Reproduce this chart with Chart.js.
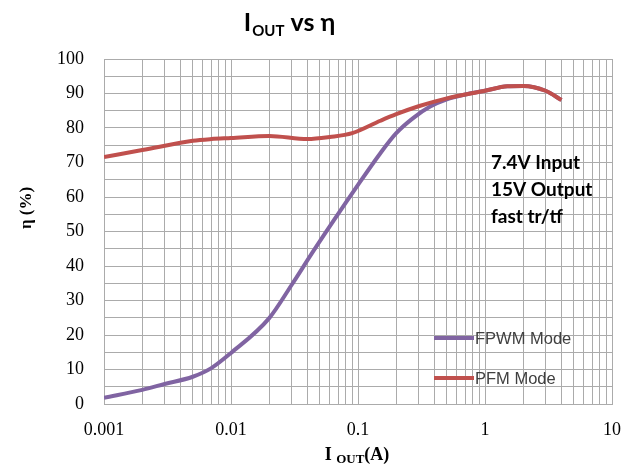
<!DOCTYPE html>
<html lang="en">
<head>
<meta charset="UTF-8">
<title>IOUT vs eta</title>
<script src="https://cdn.jsdelivr.net/npm/chart.js@4"></script>
<style>
  html, body { margin: 0; padding: 0; background: #fff; }
  #wrap { width: 633px; height: 471px; position: relative; }
</style>
</head>
<body>
<div id="wrap"><canvas id="effChart" width="633" height="471"></canvas></div>
<script>
// values
const fpwmCurrent = [0.001, 0.002, 0.003, 0.005, 0.007, 0.01, 0.02, 0.03, 0.045, 0.1, 0.15, 0.2, 0.27, 0.37, 0.5, 0.7, 1, 1.5, 2, 3, 4];
const fpwmEff     = [1.8, 4.1, 5.8, 7.9, 10.4, 14.8, 24.9, 34.5, 44.6, 63.5, 72.7, 78.5, 82.8, 86.2, 88.3, 89.7, 90.8, 92.1, 92.2, 90.8, 88.1];

const pfmCurrent = [0.001, 0.002, 0.005, 0.007, 0.01, 0.02, 0.04, 0.06, 0.09, 0.15, 0.2, 0.3, 0.5, 1, 1.5, 2, 3, 4];
const pfmEff     = [71.6, 73.6, 76.3, 76.8, 77.1, 77.7, 76.8, 77.4, 78.5, 82.1, 84.0, 86.3, 88.6, 90.8, 92.1, 92.2, 90.8, 88.1];

const xDecades = [0.001, 0.01, 0.1, 1, 10];
const xTickLabels = ['0.001', '0.01', '0.1', '1', '10'];
const yTickLabels = ['0', '10', '20', '30', '40', '50', '60', '70', '80', '90', '100'];
const seriesNames = ['FPWM Mode', 'PFM Mode'];
const noteLines = ['7.4V Input', '15V Output', 'fast tr/tf'];

const purple = '#8064A2';
const red = '#C0504D';
const gridGray = '#ababab';

function toPoints(xs, ys) {
  return xs.map((x, i) => ({ x: x, y: ys[i] }));
}

// log grid: 1..9 in every decade, up to the last decade
function logTicks() {
  const out = [];
  for (let d = 0; d < xDecades.length - 1; d++) {
    for (let k = 1; k < 10; k++) out.push({ value: xDecades[d] * k });
  }
  out.push({ value: xDecades[xDecades.length - 1] });
  return out;
}

// title, axis titles, note and legend
const decorations = {
  id: 'decorations',
  afterDraw(chart) {
    const ctx = chart.ctx;
    ctx.save();
    ctx.fillStyle = '#000';
    ctx.textBaseline = 'alphabetic';

    // title: I_OUT vs η
    const big = 'bold 25px Lato';
    const sub = 'bold 15px Lato';
    ctx.font = big; const wI = ctx.measureText('I').width;
    ctx.font = sub; const wSub = ctx.measureText('OUT').width;
    ctx.font = big; const wRest = ctx.measureText(' vs η').width;
    let tx = 289 - (wI + wSub + wRest) / 2;
    ctx.font = big; ctx.textAlign = 'left';
    ctx.fillText('I', tx, 31); tx += wI + 1;
    ctx.font = sub; ctx.fillText('OUT', tx, 36); tx += wSub;
    ctx.font = big; ctx.fillText(' vs η', tx, 31);

    // x title: I OUT(A)
    const xb = 'bold 18px "Liberation Serif"';
    const xs = 'bold 13px "Liberation Serif"';
    ctx.font = xb; const a1 = ctx.measureText('I ').width;
    ctx.font = xs; const a2 = ctx.measureText('OUT').width;
    ctx.font = xb; const a3 = ctx.measureText('(A)').width;
    let ax = 357 - (a1 + a2 + a3) / 2;
    ctx.font = xb; ctx.fillText('I ', ax, 460); ax += a1;
    ctx.font = xs; ctx.fillText('OUT', ax, 463); ax += a2;
    ctx.font = xb; ctx.fillText('(A)', ax, 460);

    // y title
    ctx.save();
    ctx.translate(31, 208);
    ctx.rotate(-Math.PI / 2);
    ctx.textAlign = 'center';
    ctx.font = 'bold 17px "Liberation Serif"';
    ctx.fillText('η (%)', 0, 0);
    ctx.restore();

    // note
    ctx.font = 'bold 19px Lato';
    ctx.textAlign = 'left';
    noteLines.forEach((t, i) => ctx.fillText(t, 491, 169 + i * 27));

    // legend inside plot
    const colors = [purple, red];
    ctx.font = '16.5px "Liberation Sans"';
    ctx.textBaseline = 'middle';
    seriesNames.forEach((name, i) => {
      const ly = 338 + i * 40;
      ctx.strokeStyle = colors[i];
      ctx.lineWidth = 4;
      ctx.beginPath();
      ctx.moveTo(434, ly);
      ctx.lineTo(474, ly);
      ctx.stroke();
      ctx.fillStyle = '#404040';
      ctx.fillText(name, 475, ly + 1);
    });
    ctx.restore();
  }
};

function draw() {
  new Chart(document.getElementById('effChart'), {
    type: 'line',
    data: {
      datasets: [
        {
          label: seriesNames[0],
          data: toPoints(fpwmCurrent, fpwmEff),
          borderColor: purple,
          borderWidth: 4,
          pointRadius: 0,
          cubicInterpolationMode: 'monotone',
          order: 1
        },
        {
          label: seriesNames[1],
          data: toPoints(pfmCurrent, pfmEff),
          borderColor: red,
          borderWidth: 4,
          pointRadius: 0,
          cubicInterpolationMode: 'monotone',
          order: 0
        }
      ]
    },
    options: {
      responsive: false,
      animation: false,
      layout: { padding: { top: 59, right: 21, left: 0, bottom: 0 } },
      plugins: {
        legend: { display: false },
        title: { display: false },
        tooltip: { enabled: false }
      },
      scales: {
        x: {
          type: 'logarithmic',
          min: xDecades[0],
          max: xDecades[xDecades.length - 1],
          afterBuildTicks(scale) { scale.ticks = logTicks(); },
          afterFit(scale) {
            scale.height = 67;
            scale.paddingLeft = 0;
            scale.paddingRight = 0;
          },
          grid: { color: gridGray, drawTicks: false },
          border: { color: gridGray },
          ticks: {
            autoSkip: false,
            maxRotation: 0,
            padding: 15,
            color: '#000',
            font: { family: 'Liberation Serif', size: 18 },
            callback(v) {
              const i = xDecades.findIndex(d => Math.abs(Math.log10(d) - Math.log10(v)) < 1e-9);
              return i >= 0 ? xTickLabels[i] : '';
            }
          }
        },
        y: {
          min: 0,
          max: 100,
          afterFit(scale) {
            scale.width = 104;
            scale.paddingTop = 0;
            scale.paddingBottom = 0;
          },
          grid: { color: gridGray, drawTicks: false },
          border: { color: gridGray },
          ticks: {
            stepSize: 5,
            autoSkip: false,
            padding: 20,
            color: '#000',
            font: { family: 'Liberation Serif', size: 18 },
            callback(v) {
              const label = String(v);
              return yTickLabels.includes(label) ? label : '';
            }
          }
        }
      }
    },
    plugins: [decorations]
  });
}

Promise.all([
  document.fonts.load('bold 25px Lato'),
  document.fonts.load('18px "Liberation Serif"'),
  document.fonts.load('bold 17px "Liberation Serif"'),
  document.fonts.load('16px "Liberation Sans"')
]).then(draw, draw);
</script>
</body>
</html>
